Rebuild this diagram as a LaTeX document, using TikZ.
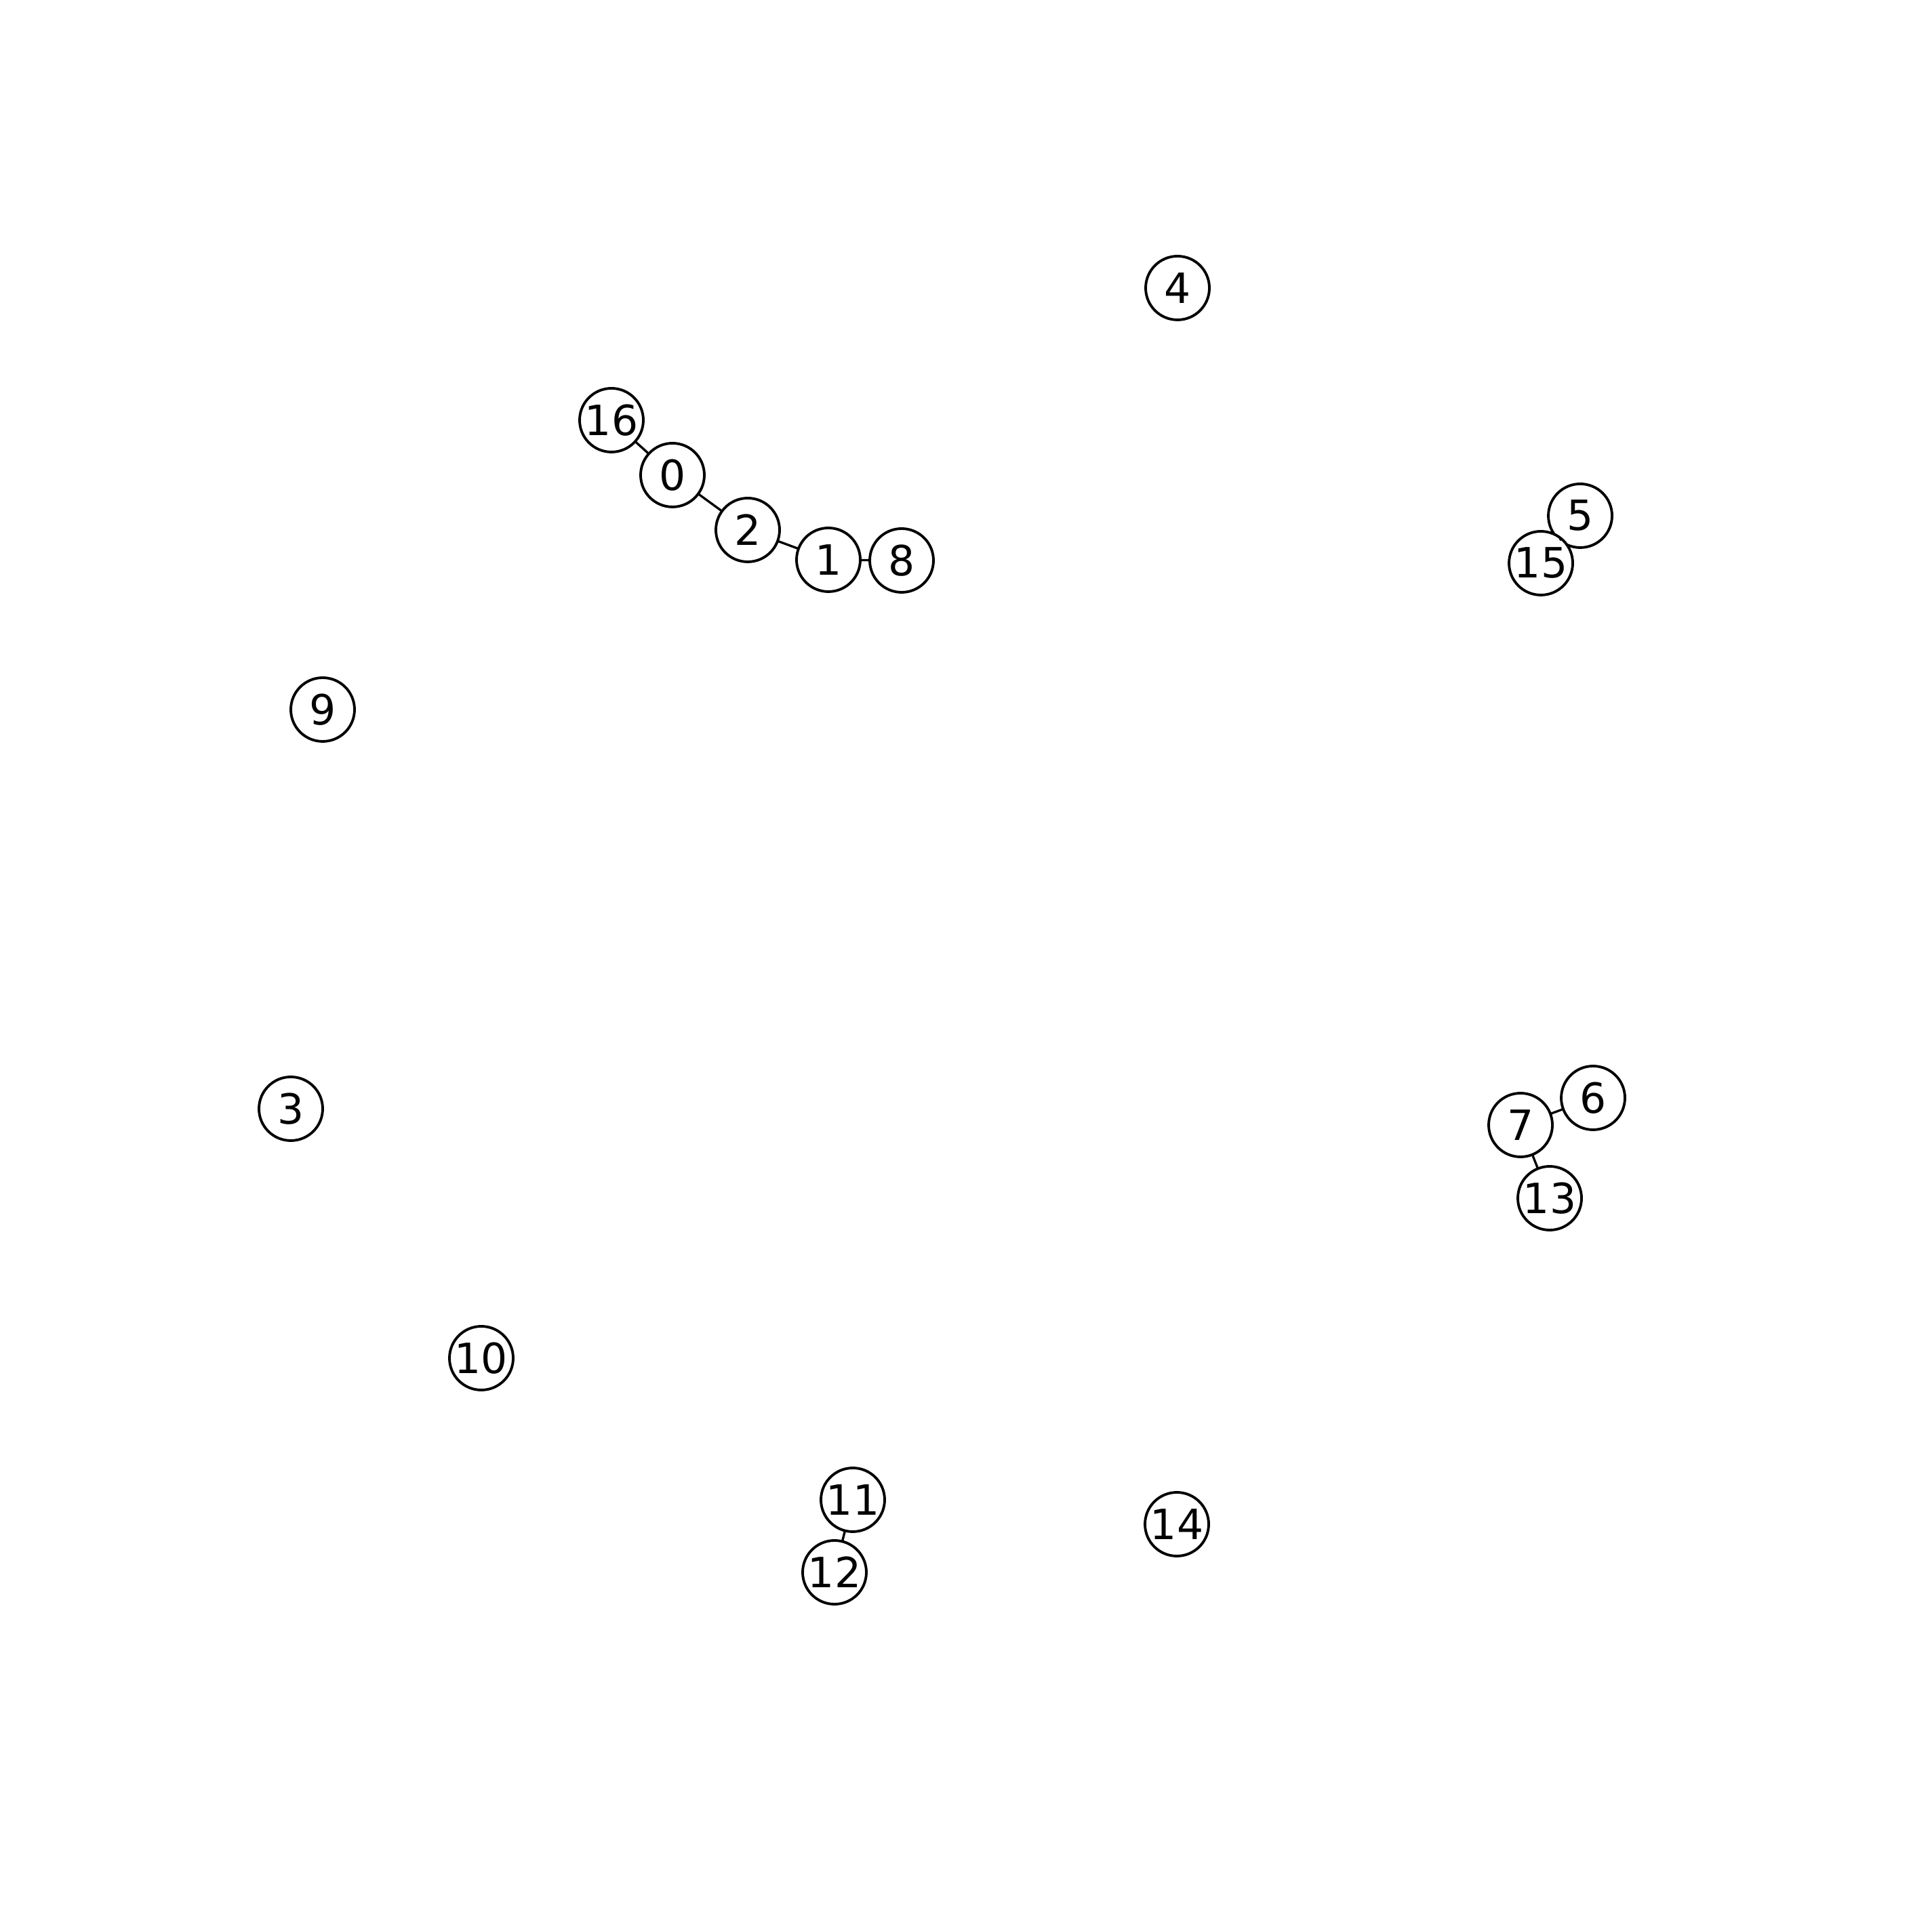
\documentclass[tikz,border=0pt]{standalone}
\usepackage{fontspec}
\setmainfont{DejaVu Sans}
\usepackage{tikz}
\usetikzlibrary{positioning}

\begin{document}
\begin{tikzpicture}[
  vertex/.style={draw,circle,line width=1.1pt,fill=white,minimum size=0.94cm,
    inner sep=0pt,outer sep=0pt,font=\fontsize{17.5}{20}\selectfont},
  edge/.style={line width=0.95pt}
]
  \useasboundingbox (0,0) rectangle (28.5,28.32);

  % Vertices
  \node[vertex] (n0) at (9.92,21.31) {0};
  \node[vertex] (n1) at (12.22,20.06) {1};
  \node[vertex] (n2) at (11.03,20.50) {2};
  \node[vertex] (n3) at (4.29,11.96) {3};
  \node[vertex] (n4) at (17.37,24.07) {4};
  \node[vertex] (n5) at (23.31,20.71) {5};
  \node[vertex] (n6) at (23.50,12.12) {6};
  \node[vertex] (n7) at (22.43,11.72) {7};
  \node[vertex] (n8) at (13.30,20.05) {8};
  \node[vertex] (n9) at (4.76,17.85) {9};
  \node[vertex] (n10) at (7.10,8.28) {10};
  \node[vertex] (n11) at (12.58,6.19) {11};
  \node[vertex] (n12) at (12.31,5.12) {12};
  \node[vertex] (n13) at (22.86,10.64) {13};
  \node[vertex] (n14) at (17.36,5.83) {14};
  \node[vertex] (n15) at (22.73,20.01) {15};
  \node[vertex] (n16) at (9.02,22.12) {16};

  % Edges
  \draw[edge] (n16) -- (n0);
  \draw[edge] (n0) -- (n2);
  \draw[edge] (n2) -- (n1);
  \draw[edge] (n1) -- (n8);
  \draw[edge] (n5) -- (n15);
  \draw[edge] (n7) -- (n6);
  \draw[edge] (n7) -- (n13);
  \draw[edge] (n11) -- (n12);
\end{tikzpicture}
\end{document}
